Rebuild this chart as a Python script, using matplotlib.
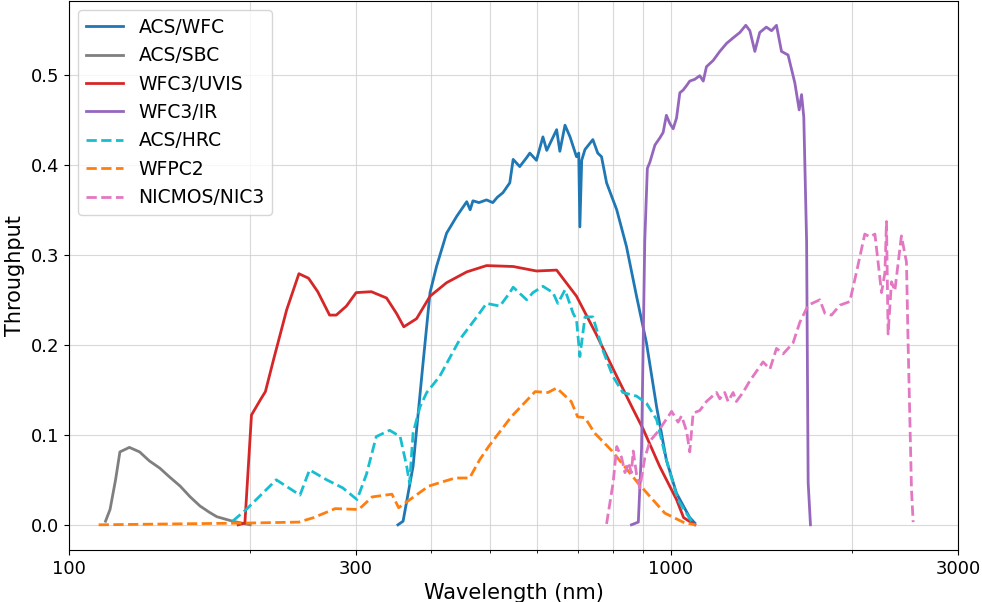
import numpy as np
import matplotlib
matplotlib.use('Agg')
import matplotlib.pyplot as plt
from matplotlib.ticker import FixedLocator, FixedFormatter, NullFormatter

# wavelength (nm) / throughput
sbc_wl = [115, 117, 119.5, 121.5, 126, 131, 136, 141.5, 147, 153, 159, 165, 171, 176, 187, 200]
sbc_tp = [0.004, 0.017, 0.050, 0.081, 0.086, 0.081, 0.071, 0.063, 0.053, 0.043, 0.031, 0.021, 0.014, 0.009, 0.004, 0.0]

wfpc2_wl = [112, 150, 200, 241, 255, 277, 303, 319, 344, 353, 396, 438, 463, 481, 498, 543, 595,
            625, 646, 683, 700, 720, 747, 796, 883, 977, 1055, 1100]
wfpc2_tp = [0.0, 0.001, 0.002, 0.003, 0.008, 0.018, 0.017, 0.031, 0.034, 0.019, 0.043, 0.052, 0.052,
            0.072, 0.087, 0.120, 0.148, 0.147, 0.152, 0.137, 0.120, 0.119, 0.102, 0.083, 0.046, 0.013, 0.002, 0.0]

uvis_wl = [191, 196, 201, 208, 212, 219, 230, 241, 250, 259, 271, 278, 289, 300, 318, 337, 350, 360,
           378, 398, 424, 458, 494, 547, 598, 646, 697, 750, 813, 866, 900, 958, 1022, 1050, 1096]
uvis_tp = [0.0, 0.002, 0.122, 0.139, 0.148, 0.185, 0.239, 0.279, 0.274, 0.259, 0.233, 0.233, 0.243,
           0.258, 0.259, 0.252, 0.235, 0.220, 0.229, 0.254, 0.269, 0.281, 0.288, 0.287, 0.282, 0.283,
           0.254, 0.213, 0.165, 0.128, 0.106, 0.065, 0.028, 0.008, 0.0]

wfc_wl = [352, 359, 373, 387, 398, 408, 424, 441, 458, 464, 469, 480, 494, 506, 515, 526, 540, 547,
          561, 576, 583, 598, 613, 622, 646, 654, 667, 680, 697, 703, 706, 711, 720, 742, 756, 767,
          782, 813, 844, 877, 911, 947, 983, 1022, 1075, 1096]
wfc_tp = [0.0, 0.004, 0.065, 0.176, 0.258, 0.287, 0.324, 0.343, 0.359, 0.350, 0.360, 0.358, 0.361,
          0.358, 0.364, 0.369, 0.380, 0.406, 0.398, 0.408, 0.413, 0.405, 0.431, 0.416, 0.439, 0.415,
          0.444, 0.431, 0.409, 0.413, 0.331, 0.405, 0.417, 0.428, 0.413, 0.409, 0.380, 0.350, 0.309,
          0.254, 0.202, 0.131, 0.072, 0.035, 0.008, 0.002]

hrc_wl = [187, 197, 221, 242, 251, 268, 285, 301, 312, 324, 341, 355, 364, 368, 373, 383, 393, 413,
          446, 476, 494, 520, 540, 547, 576, 590, 613, 637, 649, 667, 688, 697, 706, 720, 742, 771,
          801, 832, 877, 911, 947, 983, 1027, 1082]
hrc_tp = [0.004, 0.017, 0.050, 0.033, 0.061, 0.050, 0.041, 0.028, 0.056, 0.098, 0.105, 0.098, 0.065,
          0.046, 0.102, 0.131, 0.147, 0.165, 0.206, 0.231, 0.246, 0.243, 0.258, 0.264, 0.250, 0.258,
          0.265, 0.258, 0.246, 0.261, 0.235, 0.228, 0.187, 0.231, 0.231, 0.194, 0.165, 0.147, 0.143,
          0.135, 0.117, 0.072, 0.028, 0.004]

ir_wl = [860, 883, 894, 905, 914, 923, 941, 959, 971, 983, 996, 1009, 1022, 1035, 1048, 1062, 1075,
         1096, 1117, 1132, 1146, 1176, 1206, 1238, 1269, 1302, 1332, 1353, 1379, 1405, 1441, 1470,
         1498, 1527, 1566, 1607, 1634, 1649, 1663, 1681, 1691, 1706]
ir_tp = [0.0, 0.003, 0.085, 0.315, 0.396, 0.403, 0.422, 0.430, 0.436, 0.455, 0.446, 0.440, 0.452,
         0.480, 0.483, 0.488, 0.493, 0.495, 0.499, 0.493, 0.509, 0.516, 0.526, 0.535, 0.541, 0.547,
         0.555, 0.549, 0.526, 0.547, 0.553, 0.549, 0.555, 0.526, 0.522, 0.491, 0.461, 0.478, 0.453,
         0.315, 0.047, 0.0]

nic3_wl = [782, 802, 813, 828, 839, 850, 860, 866, 877, 888, 905, 923, 953, 1003, 1028, 1042, 1062,
           1075, 1089, 1117, 1146, 1191, 1206, 1229, 1245, 1269, 1285, 1318, 1353, 1423, 1461, 1498,
           1537, 1596, 1638, 1691, 1768, 1803, 1849, 1909, 1983, 2035, 2100, 2141, 2183, 2239, 2268,
           2282, 2296, 2326, 2356, 2416, 2463, 2479, 2511, 2527]
nic3_tp = [0.001, 0.047, 0.087, 0.075, 0.058, 0.069, 0.058, 0.082, 0.056, 0.041, 0.074, 0.093, 0.104,
           0.126, 0.114, 0.121, 0.104, 0.081, 0.124, 0.127, 0.137, 0.147, 0.140, 0.147, 0.137, 0.147,
           0.137, 0.147, 0.160, 0.181, 0.173, 0.196, 0.190, 0.202, 0.225, 0.244, 0.250, 0.235, 0.233,
           0.244, 0.248, 0.281, 0.323, 0.320, 0.323, 0.258, 0.280, 0.337, 0.212, 0.270, 0.260, 0.321,
           0.292, 0.200, 0.039, 0.003]

series = [
    ('ACS/WFC', wfc_wl, wfc_tp, 'tab:blue', '-'),
    ('ACS/SBC', sbc_wl, sbc_tp, 'tab:gray', '-'),
    ('WFC3/UVIS', uvis_wl, uvis_tp, 'tab:red', '-'),
    ('WFC3/IR', ir_wl, ir_tp, 'tab:purple', '-'),
    ('ACS/HRC', hrc_wl, hrc_tp, 'tab:cyan', '--'),
    ('WFPC2', wfpc2_wl, wfpc2_tp, 'tab:orange', '--'),
    ('NICMOS/NIC3', nic3_wl, nic3_tp, 'tab:pink', '--'),
]

fig = plt.figure(figsize=(9.82, 6.02), dpi=100)
ax = fig.add_axes([69/982, 52/602, 889/982, 549/602])

for name, wl, tp, col, ls in series:
    ax.plot(wl, tp, color=col, linestyle=ls, linewidth=2, label=name)

ax.set_xscale('log')
ax.set_xlim(100, 3000)
ax.set_ylim(-0.028, 0.582)
ax.xaxis.set_major_locator(FixedLocator([100, 300, 1000, 3000]))
ax.xaxis.set_major_formatter(FixedFormatter(['100', '300', '1000', '3000']))
ax.xaxis.set_minor_formatter(NullFormatter())
ax.grid(True, which='both', color='#d0d0d0', linewidth=0.8, alpha=0.8)
ax.set_axisbelow(True)

ax.tick_params(labelsize=13)
ax.set_xlabel('Wavelength (nm)', fontsize=15)
ax.set_ylabel('Throughput', fontsize=15)
ax.legend(loc='upper left', fontsize=13.5)

plt.savefig('out.png', dpi=100)
